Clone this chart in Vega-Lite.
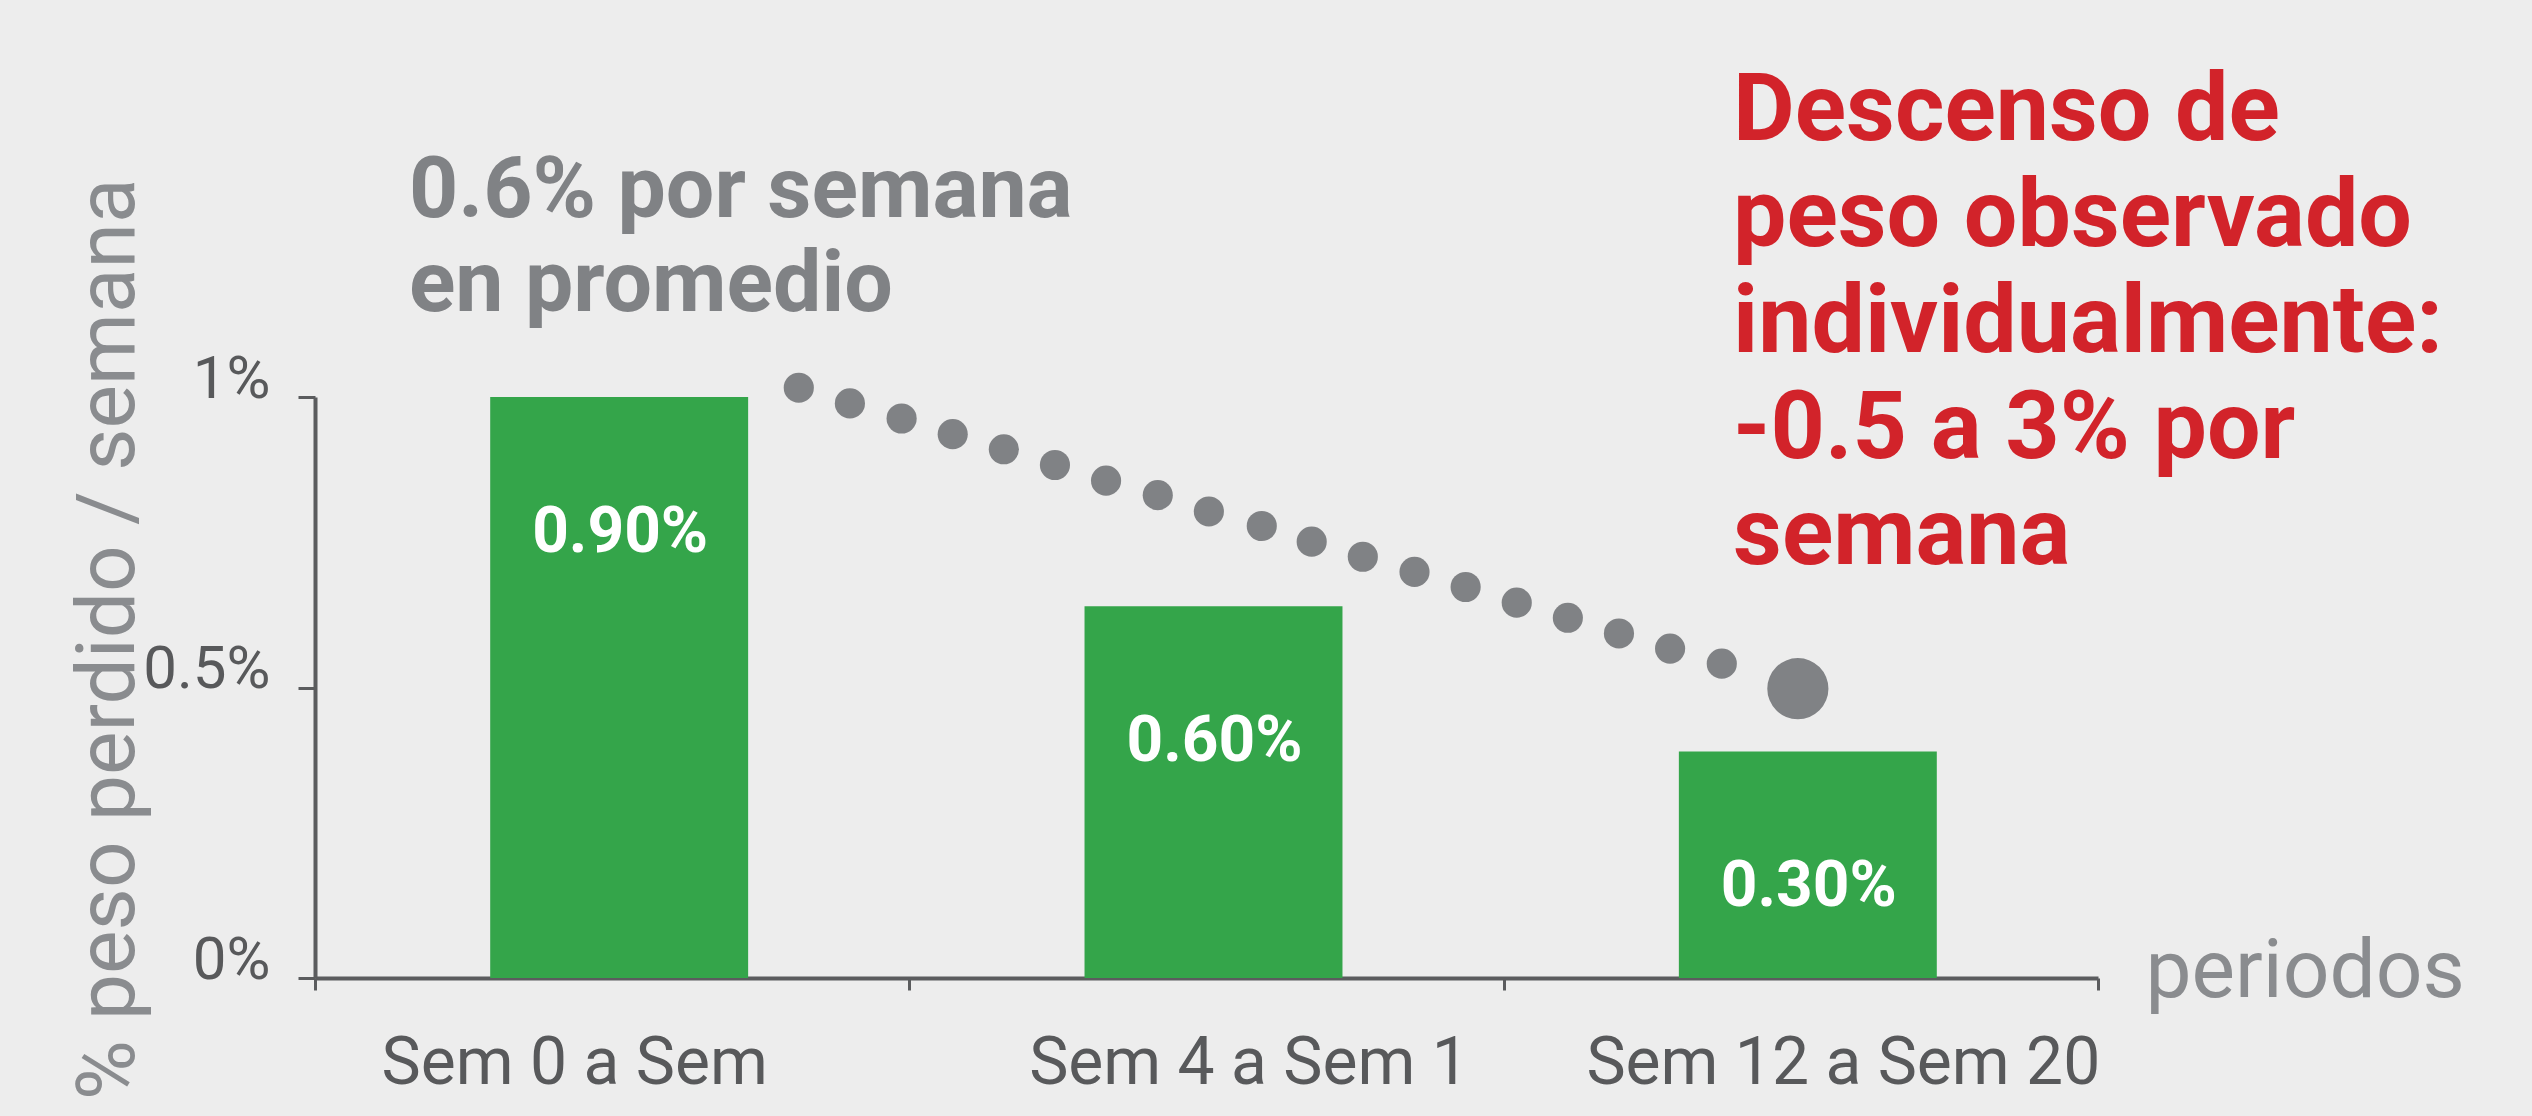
{
  "$schema": "https://vega.github.io/schema/vega-lite/v6.json",
  "width": 1783,
  "height": 581,
  "autosize": {"type": "none"},
  "padding": {"left": 315, "top": 397, "right": 434, "bottom": 138},
  "background": "#ededed",
  "config": {"view": {"stroke": null}, "font": "Roboto"},
  "encoding": {
    "y": {
      "field": "value",
      "type": "quantitative",
      "scale": {"domain": [0, 1], "nice": false, "zero": true},
      "axis": {
        "title": "% peso perdido / semana",
        "values": [0, 0.5, 1],
        "labelExpr": "datum.value + '%'",
        "grid": false,
        "domainColor": "#5b5c5e",
        "domainWidth": 4,
        "tickColor": "#5b5c5e",
        "tickWidth": 3,
        "tickSize": 17,
        "labelPadding": 28,
        "labelFont": "Roboto",
        "labelFontSize": 60,
        "labelColor": "#58595b",
        "labelBaseline": "alphabetic",
        "titleFont": "Roboto",
        "titleFontSize": 82,
        "titleFontWeight": "normal",
        "titleColor": "#8a8c8f",
        "titleAngle": -90,
        "titleAlign": "right",
        "titleBaseline": "alphabetic",
        "titleX": -182,
        "titleY": -219
      }
    }
  },
  "layer": [
    {
      "data": {
        "values": [
          {"period": "Sem 0 a Sem", "value": 1.0, "label": "0.90%"},
          {"period": "Sem 4 a Sem 1", "value": 0.64, "label": "0.60%"},
          {"period": "Sem 12 a Sem 20", "value": 0.39, "label": "0.30%"}
        ]
      },
      "encoding": {
        "x": {
          "field": "period",
          "type": "nominal",
          "sort": null,
          "scale": {"paddingInner": 0, "paddingOuter": 0},
          "axis": {
            "title": "periodos",
            "tickBand": "extent",
            "labelAngle": 0,
            "labelFont": "Roboto",
            "labelFontSize": 66,
            "labelColor": "#58595b",
            "labelBaseline": "alphabetic",
            "labelPadding": 93,
            "labelLimit": 0,
            "labelOverlap": false,
            "labelOffset": {"condition": {"test": "datum.value === 'Sem 0 a Sem'", "value": -38}, "value": 42},
            "tickSize": 12,
            "tickWidth": 3,
            "tickColor": "#5b5c5e",
            "domainColor": "#5b5c5e",
            "domainWidth": 4,
            "titleFont": "Roboto",
            "titleFontSize": 82,
            "titleFontWeight": "normal",
            "titleColor": "#8a8c8f",
            "titleX": 1830,
            "titleY": 18,
            "titleAlign": "left",
            "titleBaseline": "alphabetic"
          }
        }
      },
      "layer": [
        {"mark": {"type": "bar", "color": "#34a54a", "width": {"band": 0.434}, "xOffset": 7}},
        {
          "mark": {"type": "text", "color": "#ffffff", "fontSize": 64, "fontWeight": "bold", "align": "center", "baseline": "alphabetic", "dy": 155, "xOffset": 8},
          "encoding": {"text": {"field": "label", "type": "nominal"}}
        }
      ]
    },
    {
      "encoding": {
        "x": {"field": "u", "type": "quantitative", "scale": {"domain": [0, 3], "nice": false, "zero": false}, "axis": null}
      },
      "layer": [
        {
          "data": {
            "values": [
              {"u": 0.814, "value": 1.016, "kind": "small"},
              {"u": 0.900, "value": 0.989, "kind": "small"},
              {"u": 0.987, "value": 0.963, "kind": "small"},
              {"u": 1.073, "value": 0.936, "kind": "small"},
              {"u": 1.159, "value": 0.910, "kind": "small"},
              {"u": 1.245, "value": 0.883, "kind": "small"},
              {"u": 1.331, "value": 0.856, "kind": "small"},
              {"u": 1.418, "value": 0.831, "kind": "small"},
              {"u": 1.504, "value": 0.803, "kind": "small"},
              {"u": 1.593, "value": 0.778, "kind": "small"},
              {"u": 1.677, "value": 0.751, "kind": "small"},
              {"u": 1.763, "value": 0.725, "kind": "small"},
              {"u": 1.850, "value": 0.699, "kind": "small"},
              {"u": 1.936, "value": 0.673, "kind": "small"},
              {"u": 2.022, "value": 0.646, "kind": "small"},
              {"u": 2.108, "value": 0.620, "kind": "small"},
              {"u": 2.194, "value": 0.593, "kind": "small"},
              {"u": 2.280, "value": 0.567, "kind": "small"},
              {"u": 2.367, "value": 0.541, "kind": "small"},
              {"u": 2.495, "value": 0.498, "kind": "big"}
            ]
          },
          "mark": {"type": "circle", "color": "#808285", "opacity": 1},
          "encoding": {
            "size": {"field": "kind", "type": "ordinal", "scale": {"domain": ["small", "big"], "range": [908, 3740]}, "legend": null}
          }
        },
        {
          "data": {"values": [{"u": 0.158, "value": 1.309, "note": ["0.6% por semana", "en promedio"]}]},
          "mark": {"type": "text", "align": "left", "baseline": "alphabetic", "fontSize": 86, "fontWeight": "bold", "color": "#808285", "lineHeight": 94},
          "encoding": {"text": {"field": "note", "type": "nominal"}}
        },
        {
          "data": {"values": [{"u": 2.386, "value": 1.443, "note": ["Descenso de", "peso observado", "individualmente:", "-0.5 a 3% por", "semana"]}]},
          "mark": {"type": "text", "align": "left", "baseline": "alphabetic", "fontSize": 95, "fontWeight": "bold", "color": "#d2232a", "lineHeight": 106},
          "encoding": {"text": {"field": "note", "type": "nominal"}}
        }
      ]
    }
  ],
  "resolve": {"scale": {"x": "independent"}}
}
